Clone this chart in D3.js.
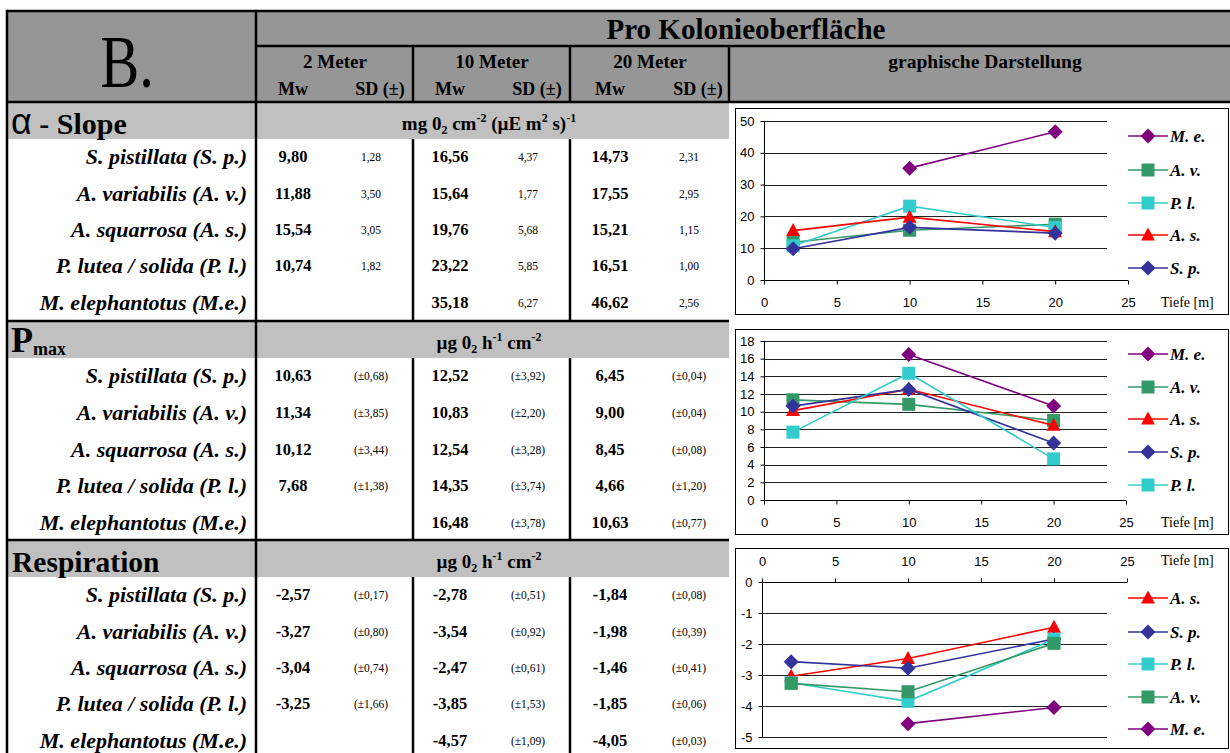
<!DOCTYPE html>
<html>
<head>
<meta charset="utf-8">
<script src="https://cdn.jsdelivr.net/npm/d3@7"></script>
<style>
  html, body { margin: 0; padding: 0; background: #fff; }
  svg { display: block; }
  .serif { font-family: "Liberation Serif", "Times New Roman", serif; }
  .sans { font-family: "Liberation Sans", Arial, sans-serif; }
</style>
</head>
<body>
<svg id="chart" width="1230" height="753"></svg>
<script>
// ---- data -------------------------------------------------------------
const depths = [2, 10, 20];
const depthLabels = ["2 Meter", "10 Meter", "20 Meter"];
const speciesNames = [
  "S. pistillata (S. p.)",
  "A. variabilis (A. v.)",
  "A. squarrosa (A. s.)",
  "P. lutea / solida (P. l.)",
  "M. elephantotus (M.e.)"
];
const speciesCodes = ["S. p.", "A. v.", "A. s.", "P. l.", "M. e."];

// mean (Mw) and standard deviation per species (rows) and depth (columns)
const alphaMw = [[9.80, 16.56, 14.73], [11.88, 15.64, 17.55], [15.54, 19.76, 15.21], [10.74, 23.22, 16.51], [null, 35.18, 46.62]];
const alphaSD = [[1.28, 4.37, 2.31], [3.50, 1.77, 2.95], [3.05, 5.68, 1.15], [1.82, 5.85, 1.00], [null, 6.27, 2.56]];
const pmaxMw = [[10.63, 12.52, 6.45], [11.34, 10.83, 9.00], [10.12, 12.54, 8.45], [7.68, 14.35, 4.66], [null, 16.48, 10.63]];
const pmaxSD = [[0.68, 3.92, 0.04], [3.85, 2.20, 0.04], [3.44, 3.28, 0.08], [1.38, 3.74, 1.20], [null, 3.78, 0.77]];
const respMw = [[-2.57, -2.78, -1.84], [-3.27, -3.54, -1.98], [-3.04, -2.47, -1.46], [-3.25, -3.85, -1.85], [null, -4.57, -4.05]];
const respSD = [[0.17, 0.51, 0.08], [0.80, 0.92, 0.39], [0.74, 0.61, 0.41], [1.66, 1.53, 0.06], [null, 1.09, 0.03]];

// legend / drawing order of each chart (species codes)
const alphaOrder = ["M. e.", "A. v.", "P. l.", "A. s.", "S. p."];
const pmaxOrder = ["M. e.", "A. v.", "A. s.", "S. p.", "P. l."];
const respOrder = ["A. s.", "S. p.", "P. l.", "A. v.", "M. e."];

// axis ticks
const depthTicks = [0, 5, 10, 15, 20, 25];
const alphaTicks = [0, 10, 20, 30, 40, 50];
const pmaxTicks = [0, 2, 4, 6, 8, 10, 12, 14, 16, 18];
const respTicks = [0, -1, -2, -3, -4, -5];

// ---- styles -------------------------------------------------------------
const speciesColor = { "S. p.": "#333399", "A. v.": "#339966", "A. s.": "#ff0000", "P. l.": "#33cccc", "M. e.": "#800080" };
const speciesShape = { "S. p.": "diamond", "A. v.": "square", "A. s.": "triangle", "P. l.": "square", "M. e.": "diamond" };

const svg = d3.select("#chart");
const fmt = v => v.toFixed(2).replace(".", ",");

// ---- table frame --------------------------------------------------------
const L = 7, R = 1230, TOP = 11, HEAD_MID = 46, HEAD_BOT = 102;
const COL_LABEL = 256, COL_A = 413, COL_B = 570, COL_END = 729;

svg.append("rect").attr("x", L).attr("y", TOP).attr("width", R - L).attr("height", HEAD_BOT - TOP).attr("fill", "#969696");

const sections = [
  { top: 102, band: 37, rowH: 36.4, title: "alpha", unit: "alpha", mw: alphaMw, sd: alphaSD, paren: false },
  { top: 321, band: 37, rowH: 36.6, title: "pmax", unit: "ug", mw: pmaxMw, sd: pmaxSD, paren: true },
  { top: 540, band: 37, rowH: 36.4, title: "resp", unit: "ug", mw: respMw, sd: respSD, paren: true }
];

const mwX = [293, 450, 610];
const sdX = [371, 528, 689];

sections.forEach(s => {
  svg.append("rect").attr("x", L).attr("y", s.top).attr("width", COL_END - L).attr("height", s.band).attr("fill", "#c0c0c0");
});

const lines = svg.append("g").attr("stroke", "#000").attr("stroke-width", 2.5).attr("fill", "none");
const hline = (x1, x2, y) => lines.append("line").attr("x1", x1).attr("x2", x2).attr("y1", y).attr("y2", y);
const vline = (x, y1, y2) => lines.append("line").attr("x1", x).attr("x2", x).attr("y1", y1).attr("y2", y2);

hline(L, R, TOP);
hline(COL_LABEL, R, HEAD_MID);
hline(L, R, HEAD_BOT);
vline(L, TOP - 1.25, 753);
vline(COL_LABEL, TOP, 753);
vline(COL_A, HEAD_MID, HEAD_BOT);
vline(COL_B, HEAD_MID, HEAD_BOT);
vline(COL_END, HEAD_MID, HEAD_BOT);
sections.forEach((s, si) => {
  if (si > 0) hline(L, COL_END, s.top);
  const y1 = s.top + s.band;
  const y2 = si < sections.length - 1 ? sections[si + 1].top : 753;
  vline(COL_A, y1, y2);
  vline(COL_B, y1, y2);
});

// ---- header texts -------------------------------------------------------
svg.append("text").attr("class", "serif")
  .attr("transform", "translate(127,87) scale(0.8,1)")
  .attr("text-anchor", "middle").attr("font-size", 73).text("B.");

svg.append("text").attr("class", "serif").attr("x", 746).attr("y", 39)
  .attr("text-anchor", "middle").attr("font-size", 29).attr("font-weight", "bold").text("Pro Kolonieoberfläche");

svg.append("text").attr("class", "serif").attr("x", 985).attr("y", 68)
  .attr("text-anchor", "middle").attr("font-size", 19.5).attr("font-weight", "bold").text("graphische Darstellung");

depthLabels.forEach((d, i) => {
  const cx = [335, 492, 650][i];
  svg.append("text").attr("class", "serif").attr("x", cx).attr("y", 68)
    .attr("text-anchor", "middle").attr("font-size", 19).attr("font-weight", "bold").text(d);
  svg.append("text").attr("class", "serif").attr("x", mwX[i]).attr("y", 95)
    .attr("text-anchor", "middle").attr("font-size", 18).attr("font-weight", "bold").text("Mw");
  svg.append("text").attr("class", "serif").attr("x", sdX[i] + 9).attr("y", 95)
    .attr("text-anchor", "middle").attr("font-size", 18).attr("font-weight", "bold").text("SD (±)");
});

// ---- section titles and unit lines ----------------------------------------
function unitText(g, s) {
  const t = g.append("text").attr("class", "serif").attr("x", 489).attr("y", s.top + 28)
    .attr("text-anchor", "middle").attr("font-size", 19).attr("font-weight", "bold");
  if (s.unit === "alpha") {
    t.append("tspan").text("mg 0");
    t.append("tspan").attr("font-size", 12).attr("dy", 4).text("2");
    t.append("tspan").attr("dy", -4).text(" cm");
    t.append("tspan").attr("font-size", 12).attr("dy", -8).text("-2");
    t.append("tspan").attr("dy", 8).text(" (µE m");
    t.append("tspan").attr("font-size", 12).attr("dy", -8).text("2");
    t.append("tspan").attr("dy", 8).text(" s)");
    t.append("tspan").attr("font-size", 12).attr("dy", -8).text("-1");
  } else {
    t.append("tspan").text("µg 0");
    t.append("tspan").attr("font-size", 12).attr("dy", 4).text("2");
    t.append("tspan").attr("dy", -4).text(" h");
    t.append("tspan").attr("font-size", 12).attr("dy", -8).text("-1");
    t.append("tspan").attr("dy", 8).text(" cm");
    t.append("tspan").attr("font-size", 12).attr("dy", -8).text("-2");
  }
}

sections.forEach(s => {
  const g = svg.append("g");
  if (s.title === "alpha") {
    const t = g.append("text").attr("x", 11).attr("y", s.top + 32).attr("font-weight", "bold");
    t.append("tspan").attr("class", "sans").attr("font-size", 36).attr("font-weight", "normal").text("α");
    t.append("tspan").attr("class", "serif").attr("font-size", 30).text(" - Slope");
  } else if (s.title === "pmax") {
    const t = g.append("text").attr("class", "serif").attr("x", 11).attr("y", s.top + 31).attr("font-weight", "bold");
    t.append("tspan").attr("font-size", 36).text("P");
    t.append("tspan").attr("font-size", 18).attr("dy", 3).text("max");
  } else {
    g.append("text").attr("class", "serif").attr("x", 12).attr("y", s.top + 32)
      .attr("font-size", 29.5).attr("font-weight", "bold").text("Respiration");
  }
  unitText(g, s);

  // data rows
  speciesNames.forEach((name, r) => {
    const cy = s.top + s.band + s.rowH * (r + 0.5);
    g.append("text").attr("class", "serif").attr("x", 247).attr("y", cy + 7)
      .attr("text-anchor", "end").attr("font-size", 22).attr("font-weight", "bold").attr("font-style", "italic").text(name);
    depths.forEach((d, c) => {
      const mw = s.mw[r][c], sd = s.sd[r][c];
      if (mw === null) return;
      g.append("text").attr("class", "serif").attr("x", mwX[c]).attr("y", cy + 5)
        .attr("text-anchor", "middle").attr("font-size", 16.5).attr("font-weight", "bold").text(fmt(mw));
      g.append("text").attr("class", "serif").attr("x", sdX[c]).attr("y", cy + 4)
        .attr("text-anchor", "middle").attr("font-size", 11.5).text(s.paren ? "(±" + fmt(sd) + ")" : fmt(sd));
    });
  });
});

// ---- line charts ----------------------------------------------------------
function markerPath(shape) {
  if (shape === "diamond") return "M0,-7.5L7.5,0L0,7.5L-7.5,0Z";
  if (shape === "square") return "M-6.5,-6.5H6.5V6.5H-6.5Z";
  return "M0,-7.5L7,5.5H-7Z";
}

function drawChart(cfg) {
  const g = svg.append("g");
  g.append("rect").attr("x", 735.5).attr("y", cfg.box[0] + 0.5).attr("width", 493)
    .attr("height", cfg.box[1] - cfg.box[0]).attr("fill", "#fff").attr("stroke", "#000").attr("stroke-width", 1);

  const x = d3.scaleLinear().domain([0, 25]).range(cfg.xr);
  const y = d3.scaleLinear().domain(cfg.yDomain).range(cfg.yr);
  const axisY = y(0);

  // horizontal gridlines
  g.append("g").selectAll("line").data(cfg.ticks.filter(t => t !== 0)).join("line")
    .attr("x1", cfg.xr[0]).attr("x2", cfg.gridEnd)
    .attr("y1", d => Math.round(y(d)) + 0.5).attr("y2", d => Math.round(y(d)) + 0.5)
    .attr("stroke", "#222").attr("stroke-width", 1);

  // value axis
  const ya = g.append("g").attr("transform", `translate(${Math.round(cfg.xr[0]) + 0.5},0)`)
    .call(d3.axisLeft(y).tickValues(cfg.ticks).tickSize(4).tickPadding(6).tickFormat(d => String(d)));
  ya.selectAll("text").attr("class", "sans").attr("font-size", 13).attr("fill", "#000");
  ya.selectAll("line").attr("stroke", "#000");
  ya.select(".domain").attr("d", `M0,${cfg.yr[0]}V${cfg.yr[1]}`).attr("stroke", "#000");

  // depth axis
  const axisGen = cfg.top ? d3.axisTop(x) : d3.axisBottom(x);
  const xa = g.append("g").attr("transform", `translate(0,${Math.round(axisY) + 0.5})`)
    .call(axisGen.tickValues(depthTicks).tickSize(4).tickPadding(13));
  xa.selectAll("text").attr("class", "sans").attr("font-size", 13).attr("fill", "#000");
  xa.selectAll("line").attr("stroke", "#000");
  xa.select(".domain").attr("d", `M${cfg.xr[0]},0H${cfg.xr[1]}`).attr("stroke", "#000");

  g.append("text").attr("class", "serif").attr("x", 1161).attr("y", cfg.top ? axisY - 17 : axisY + 27)
    .attr("font-size", 14).text("Tiefe [m]");

  // series, in legend order (later ones drawn on top)
  const line = d3.line().defined(d => d.v !== null).x(d => x(d.d)).y(d => y(d.v));
  cfg.order.forEach(code => {
    const idx = speciesCodes.indexOf(code);
    const pts = depths.map((d, i) => ({ d, v: cfg.values[idx][i] }));
    const col = speciesColor[code];
    g.append("path").datum(pts).attr("d", line).attr("fill", "none").attr("stroke", col).attr("stroke-width", 1.6);
    g.append("g").selectAll("path").data(pts.filter(p => p.v !== null)).join("path")
      .attr("d", markerPath(speciesShape[code]))
      .attr("transform", p => `translate(${x(p.d)},${y(p.v)})`)
      .attr("fill", col);
  });

  // legend
  cfg.order.forEach((code, i) => {
    const ly = cfg.legendY[i];
    const col = speciesColor[code];
    g.append("line").attr("x1", 1128).attr("x2", 1168).attr("y1", ly).attr("y2", ly)
      .attr("stroke", col).attr("stroke-width", 1.6);
    g.append("path").attr("d", markerPath(speciesShape[code])).attr("transform", `translate(1148,${ly})`).attr("fill", col);
    g.append("text").attr("class", "serif").attr("x", 1170).attr("y", ly + 5.5)
      .attr("font-size", 17).attr("font-weight", "bold").attr("font-style", "italic").text(code);
  });
}

drawChart({
  box: [108, 314], xr: [764, 1128], yr: [280, 121], gridEnd: 1107,
  yDomain: [0, 50], ticks: alphaTicks, values: alphaMw, order: alphaOrder,
  legendY: [136, 170, 203, 235, 268], top: false
});
drawChart({
  box: [329, 534], xr: [764, 1126], yr: [500, 341], gridEnd: 1107,
  yDomain: [0, 18], ticks: pmaxTicks, values: pmaxMw, order: pmaxOrder,
  legendY: [354, 387, 419, 452, 485], top: false
});
drawChart({
  box: [548, 748], xr: [762, 1127], yr: [582, 737], gridEnd: 1107,
  yDomain: [0, -5], ticks: respTicks, values: respMw, order: respOrder,
  legendY: [598, 632, 664, 697, 729], top: true
});
</script>
</body>
</html>
